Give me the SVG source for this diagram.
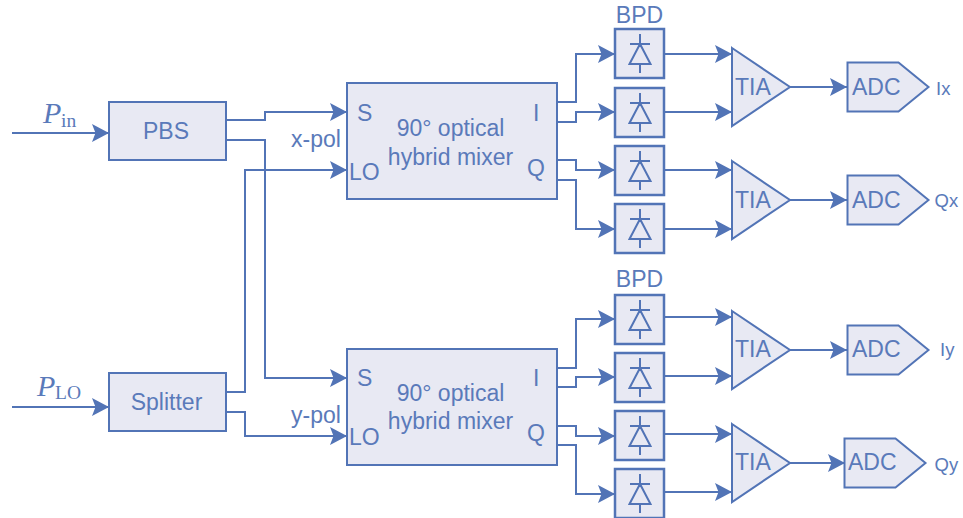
<svg xmlns="http://www.w3.org/2000/svg" width="963" height="518" viewBox="0 0 963 518">
<style>
.box{fill:#e8e9f3;stroke:#5274b6;stroke-width:2}
.pdb{fill:#e8e9f3;stroke:#5274b6;stroke-width:2.500}
.w{fill:none;stroke:#5274b6;stroke-width:2;marker-end:url(#a)}
.s{fill:none;stroke:#5274b6;stroke-width:2}
text{font-family:"Liberation Sans",Arial,sans-serif;font-size:23px;fill:#5a7aba}
.m{text-anchor:middle}
.l{font-size:18.500px}
.p{font-family:"Liberation Serif","DejaVu Serif",serif;font-style:italic;font-size:30px}
.b{font-family:"Liberation Serif","DejaVu Serif",serif;font-size:19.500px}
</style>
<defs>
<marker id="a" markerUnits="userSpaceOnUse" markerWidth="20" markerHeight="20" refX="17" refY="10" orient="auto">
<path d="M0 1 L17 10 L0 19 L3.500 10 Z" fill="#5274b6"/>
</marker>
<g id="pd">
<rect class="pdb" x="0" y="0" width="49" height="49"/>
<path class="s" d="M25 5V18M15 15H35M25 15L14.500 35H35.500ZM25 35V44"/>
</g>
<path id="tia" class="box" d="M0 -39L58 0L0 39Z"/>
<path id="adc" class="box" d="M0 -24.500H51L81 0L51 24.500H0Z"/>
</defs>
<g id="connectors">
<path class="w" d="M12 133H109"/>
<path class="w" d="M12 407H109"/>
<path class="w" d="M226 120H265V112H347"/>
<path class="w" d="M226 140H265V378H347"/>
<path class="w" d="M226 392H245V170H347"/>
<path class="w" d="M226 412H245V436H347"/>
<path class="w" d="M557 102H576V54H615"/>
<path class="w" d="M557 122H576V112H615"/>
<path class="w" d="M557 160H576V170H615"/>
<path class="w" d="M557 180H576V229H615"/>
<path class="w" d="M557 368H576V319H615"/>
<path class="w" d="M557 387H576V377H615"/>
<path class="w" d="M557 426H576V436H615"/>
<path class="w" d="M557 445H576V494H615"/>
<path class="w" d="M664 54H732"/>
<path class="w" d="M664 112H732"/>
<path class="w" d="M664 170H732"/>
<path class="w" d="M664 229H732"/>
<path class="w" d="M664 317H732"/>
<path class="w" d="M664 376H732"/>
<path class="w" d="M664 434H732"/>
<path class="w" d="M664 492H732"/>
<path class="w" d="M790 87H847"/>
<path class="w" d="M790 200H847"/>
<path class="w" d="M790 350H847"/>
<path class="w" d="M790 463H845"/>
</g>
<g id="pin"><text class="p" x="43" y="123">P</text><text class="b" x="61" y="127">in</text></g>
<g id="plo"><text class="p" x="37" y="396">P</text><text class="b" x="55" y="399">LO</text></g>
<g id="pbs"><rect class="box" x="109" y="102" width="117" height="58"/><text class="m" x="166" y="139">PBS</text></g>
<g id="splitter"><rect class="box" x="109" y="373" width="117" height="58"/><text class="m" x="166.500" y="410">Splitter</text></g>
<text id="xpol" class="m" x="316" y="147">x-pol</text>
<text id="ypol" class="m" x="316" y="423">y-pol</text>
<g id="mixer1"><rect class="box" x="347" y="83" width="210" height="116"/>
<text x="357" y="121">S</text><text x="349" y="180">LO</text><text x="533" y="121">I</text><text x="527" y="176">Q</text>
<text class="m" x="450.500" y="136">90° optical</text><text class="m" x="450.500" y="165">hybrid mixer</text></g>
<g id="mixer2"><rect class="box" x="347" y="349" width="210" height="116"/>
<text x="357" y="386">S</text><text x="349" y="445">LO</text><text x="533" y="386">I</text><text x="527" y="441">Q</text>
<text class="m" x="450.500" y="401">90° optical</text><text class="m" x="450.500" y="429">hybrid mixer</text></g>
<text id="bpd1" class="m" x="639.500" y="22.500">BPD</text>
<text id="bpd2" class="m" x="639.500" y="286.500">BPD</text>
<use id="pd1" href="#pd" x="615" y="29"/>
<use id="pd2" href="#pd" x="615" y="88"/>
<use id="pd3" href="#pd" x="615" y="146"/>
<use id="pd4" href="#pd" x="615" y="204"/>
<use id="pd5" href="#pd" x="615" y="295"/>
<use id="pd6" href="#pd" x="615" y="353"/>
<use id="pd7" href="#pd" x="615" y="411"/>
<use id="pd8" href="#pd" x="615" y="469"/>
<g id="tia1"><use href="#tia" x="732" y="87"/><text x="735" y="95">TIA</text></g>
<g id="tia2"><use href="#tia" x="732" y="200"/><text x="735" y="208">TIA</text></g>
<g id="tia3"><use href="#tia" x="732" y="350"/><text x="735" y="357">TIA</text></g>
<g id="tia4"><use href="#tia" x="732" y="463"/><text x="735" y="470">TIA</text></g>
<g id="adc1"><use href="#adc" x="847.500" y="87"/><text x="852" y="95">ADC</text></g>
<g id="adc2"><use href="#adc" x="847.500" y="200"/><text x="852" y="208">ADC</text></g>
<g id="adc3"><use href="#adc" x="847.500" y="350"/><text x="852" y="357">ADC</text></g>
<g id="adc4"><use href="#adc" x="844.500" y="463"/><text x="848" y="470">ADC</text></g>
<text class="l" x="936" y="94.500">Ix</text>
<text class="l" x="934.500" y="207">Qx</text>
<text class="l" x="940" y="356">Iy</text>
<text class="l" x="934.500" y="471">Qy</text>
</svg>
